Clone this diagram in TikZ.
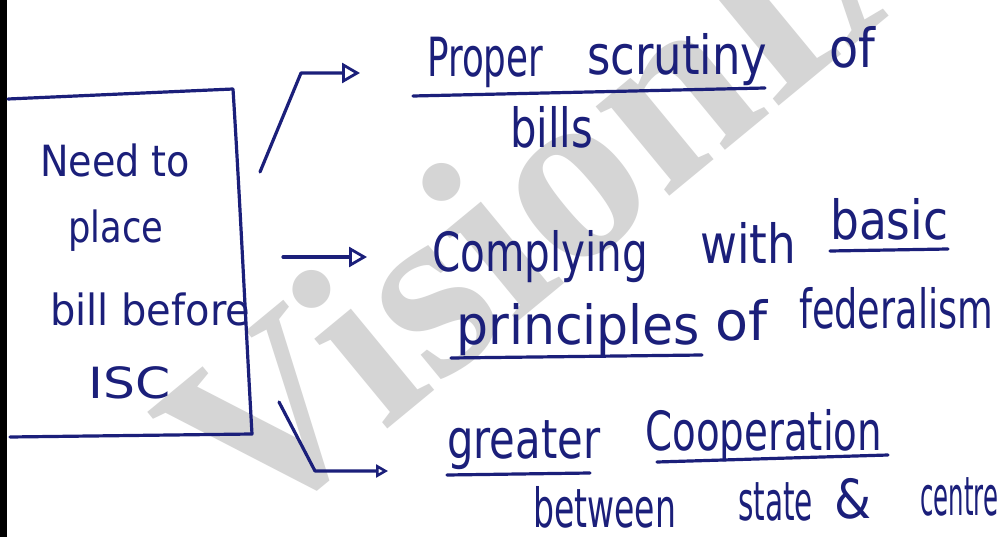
\documentclass[tikz,border=0pt]{standalone}
\usepackage{fontspec}
\usepackage{graphicx}
\usetikzlibrary{arrows.meta}
\newfontfamily\handfont{DejaVu Sans}
\newfontfamily\markfont{Liberation Serif}
\definecolor{ink}{RGB}{27,31,122}
\definecolor{wmgray}{RGB}{213,213,213}
% squeeze or stretch a word to a given width, keeping its height
\newcommand\fitw[2]{\resizebox{#1pt}{\height}{#2}}
\tikzset{
  hand/.style={draw=ink, line width=3.2pt, line cap=round, line join=round},
  arrowed/.style={hand, -{Triangle[open, length=18pt, width=20pt, line width=2.8pt]}},
  smallarrowed/.style={hand, -{Triangle[open, length=12pt, width=13pt, line width=2.6pt]}},
  boxword/.style={inner sep=0pt, anchor=base west, text=ink, font=\handfont\fontsize{43}{43}\selectfont},
  word/.style={inner sep=0pt, anchor=base west, text=ink, font=\handfont\fontsize{54}{54}\selectfont}
}
\begin{document}
\begin{tikzpicture}[x=1pt, y=-1pt]
\useasboundingbox (0,0) rectangle (1001,537);
\fill[white] (0,0) rectangle (1001,537);

% faint diagonal watermark behind the notes
\node[inner sep=0pt, anchor=base west, rotate=39.5, text=wmgray,
      font=\markfont\bfseries\fontsize{252}{252}\selectfont] (wm) at (250,542) {VisionIAS};

% dark margin strip along the left edge
\fill[black] (0,0) rectangle (7,537);

% hand-drawn box
\draw[hand] (8,99) -- (233,89) .. controls (240,200) and (246,330) .. (252,434) -- (10,437);

% text inside the box
\node[boxword] (b1) at (40,177) {\fitw{150}{Need to}};
\node[boxword] (b2) at (68,243) {\fitw{95}{place}};
\node[boxword] (b3) at (50,325) {\fitw{200}{bill before}};
\node[boxword] (b4) at (88,398) {\fitw{82}{ISC}};

% first point
\node[word] (p1) at (427,77) {\fitw{116}{Proper}};
\node[word] (p2) at (587,75) {\fitw{180}{scrutiny}};
\node[word] (p3) at (829,68) {\fitw{46}{of}};
\node[word] (p4) at (510,148) {\fitw{83}{bills}};
\draw[hand] (413,96) -- (765,88);

% second point
\node[word] (q1) at (432,272) {\fitw{216}{Complying}};
\node[word] (q2) at (700,264) {\fitw{96}{with}};
\node[word] (q3) at (830,240) {\fitw{118}{basic}};
\node[word] (q4) at (456,344) {\fitw{244}{principles}};
\node[word] (q5) at (715,340) {\fitw{52}{of}};
\node[word] (q6) at (799,328) {\fitw{194}{federalism}};
\draw[hand] (830,251) -- (948,249);
\draw[hand] (451,358) -- (702,355);

% third point
\node[word] (r1) at (447,458) {\fitw{153}{greater}};
\node[word] (r2) at (645,450) {\fitw{237}{Cooperation}};
\node[word] (r3) at (533,527) {\fitw{143}{between}};
\node[word] (r4) at (738,520) {\fitw{75}{state}};
\node[word] (r5) at (834,518) {\fitw{37}{\&}};
\node[word] (r6) at (920,515) {\fitw{78}{centre}};
\draw[hand] (447,475) -- (590,473);
\draw[hand] (657,462) -- (888,455);

% arrows from the box to the three points
\coordinate (a1s) at (260,172);
\coordinate (a1k) at (301,73);
\coordinate (a1e) at (360,73);
\coordinate (a2s) at (283,257);
\coordinate (a2e) at (367,257);
\coordinate (a3s) at (279,402);
\coordinate (a3k) at (315,471);
\coordinate (a3e) at (388,471);
\draw[arrowed] (a1s) -- (a1k) -- (a1e);
\draw[arrowed] (a2s) -- (a2e);
\draw[smallarrowed] (a3s) -- (a3k) -- (a3e);
\end{tikzpicture}
\end{document}
